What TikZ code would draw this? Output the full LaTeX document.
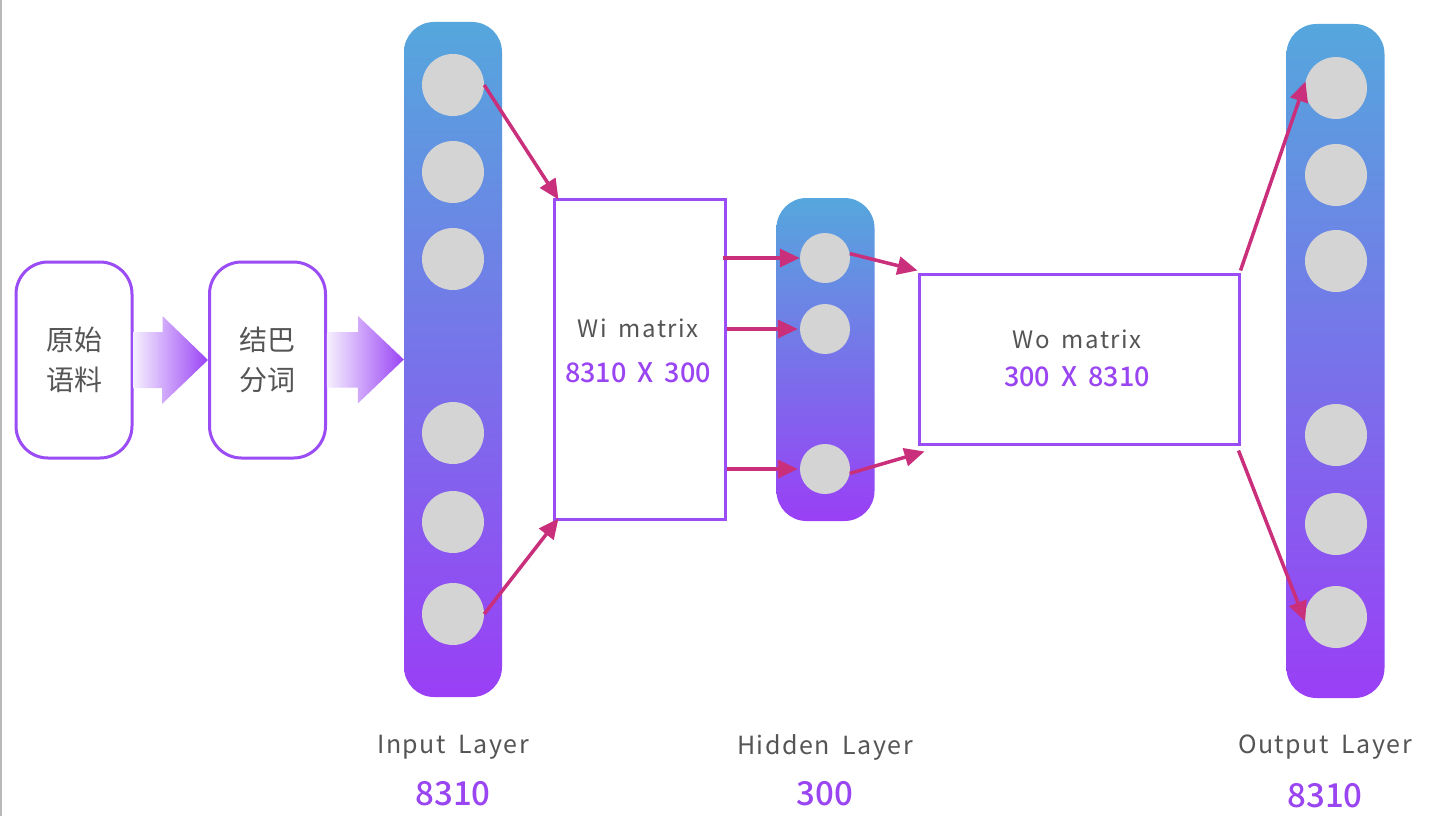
\documentclass[tikz,border=0pt]{standalone}
\usepackage{fontspec}
\setmainfont{Noto Sans CJK SC}[BoldFont={Noto Sans CJK SC Medium}]
\newfontfamily\spacedfont{Noto Sans CJK SC}[LetterSpace=6,WordSpace=1.8]
\newfontfamily\numfont{Noto Sans CJK SC Medium}[WordSpace=1.8]
\usetikzlibrary{arrows.meta,calc}
\definecolor{purp}{HTML}{9B4DF5}
\definecolor{tpurp}{HTML}{9A45F2}
\definecolor{bartop}{HTML}{55A7DD}
\definecolor{barbot}{HTML}{9A3FF6}
\definecolor{mag}{HTML}{C92F7B}
\definecolor{circ}{HTML}{D4D4D4}
\definecolor{txt}{HTML}{555555}
\definecolor{arrL}{HTML}{F6F0FE}
\definecolor{arrR}{HTML}{9A44F5}
\begin{document}
\begin{tikzpicture}[x=1pt,y=-1pt,
  stage/.style={draw=purp, line width=3pt, rounded corners=32pt, minimum width=116pt, minimum height=196pt, fill=white, text=txt, font=\fontsize{28}{40}\selectfont, align=center, inner sep=0pt},
  bar/.style={rectangle, rounded corners=30pt, top color=bartop, bottom color=barbot, minimum width=98pt, inner sep=0pt},
  neuron/.style={circle, fill=circ, minimum size=62pt, inner sep=0pt},
  hneuron/.style={circle, fill=circ, minimum size=50pt, inner sep=0pt},
  matbox/.style={rectangle, draw=purp, line width=3pt, fill=white, inner sep=0pt},
  conn/.style={draw=mag, line width=3.5pt, -{Triangle[length=20pt,width=18pt]}},
  fat/.style={left color=arrL, right color=arrR},
  lbl/.style={text=txt, font=\spacedfont\fontsize{25}{30}\selectfont},
  num/.style={text=tpurp, font=\numfont\fontsize{33}{38}\selectfont},
  mtitle/.style={text=txt, font=\spacedfont\fontsize{24}{28}\selectfont},
  mnum/.style={text=tpurp, font=\numfont\fontsize{27}{32}\selectfont}
]
\useasboundingbox (0,0) rectangle (1434,816);
\fill[white] (0,0) rectangle (1434,816);
\draw[gray!55, line width=1.5pt] (0.75,0) -- (0.75,816);

% stages
\node[stage] (s1) at (74,360) {原始\\语料};
\node[stage] (s2) at (267.5,360) {结巴\\分词};

% bars
\node[bar, minimum height=675pt] (inbar) at (453,359.5) {};
\node[bar, minimum height=323pt] (hidbar) at (825.5,359.5) {};
\node[bar, minimum height=674pt] (outbar) at (1335.5,361) {};

% fat gradient arrows
\shade[fat] (s1.east) ++(0,-28) -- ++(29,0) -- ++(0,-16) -- (s2.west) -- ++(-46,44) -- ++(0,-16) -- ++(-29,0) -- cycle;
\shade[fat] (s2.east) ++(0,-28) -- ++(31,0) -- ++(0,-16) -- (inbar.west) -- ++(-46,44) -- ++(0,-16) -- ++(-31,0) -- cycle;

% input neurons
\node[neuron] (i1) at (453,85) {};
\node[neuron] (i2) at (453,172) {};
\node[neuron] (i3) at (453,259) {};
\node[neuron] (i4) at (453,433) {};
\node[neuron] (i5) at (453,522) {};
\node[neuron] (i6) at (453,614) {};

% hidden neurons
\node[hneuron] (h1) at (825,258) {};
\node[hneuron] (h2) at (825,329) {};
\node[hneuron] (h3) at (825,469) {};

% output neurons
\node[neuron] (o1) at (1336,88) {};
\node[neuron] (o2) at (1336,175) {};
\node[neuron] (o3) at (1336,261) {};
\node[neuron] (o4) at (1336,435) {};
\node[neuron] (o5) at (1336,524) {};
\node[neuron] (o6) at (1336,617) {};

% matrices
\node[matbox, minimum width=171pt, minimum height=320pt] (wi) at (639.5,359) {};
\node[mtitle] (wit) at (638,328) {Wi matrix};
\node[mnum] (win) at (638,373) {8310 X 300};
\node[matbox, minimum width=320pt, minimum height=170pt] (wo) at (1079,359) {};
\node[mtitle] (wot) at (1077,339) {Wo matrix};
\node[mnum] (won) at (1077,377) {300 X 8310};

% connectors
\draw[conn] (i1.east) -- ([shift={(6,2)}]wi.north west);
\draw[conn] (i6.east) -- ([shift={(6,-2)}]wi.south west);
\draw[conn] ([shift={(-4,0)}]wi.east |- h1) -- (h1.west);
\draw[conn] (wi.east |- h2) -- ([xshift=-2pt]h2.west);
\draw[conn] (wi.east |- h3) -- ([xshift=-2pt]h3.west);
\draw[conn] (h1.10) -- ([shift={(0,-2)}]wo.north west);
\draw[conn] (h3.-10) -- ([shift={(7,6)}]wo.south west);
\draw[conn] ([shift={(0,-2)}]wo.north east) -- (o1.168);
\draw[conn] ([shift={(-2,5)}]wo.south east) -- (o6.188);

% labels
\node[lbl] (li) at (453,747) {Input Layer};
\node[num] (ni) at (453,794) {8310};
\node[lbl] (lh) at (825,747) {Hidden Layer};
\node[num] (nh) at (825,794) {300};
\node[lbl] (lo) at (1325,747) {Output Layer};
\node[num] (no) at (1325,796) {8310};
\end{tikzpicture}
\end{document}
